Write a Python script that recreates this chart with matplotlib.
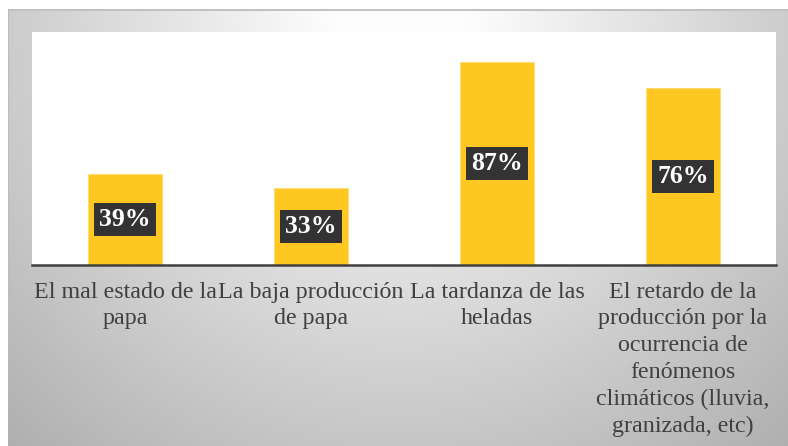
import numpy as np
import matplotlib
matplotlib.use("Agg")
import matplotlib.pyplot as plt
from matplotlib import font_manager

categories = [
    "El mal estado de la\npapa",
    "La baja producción\nde papa",
    "La tardanza de las\nheladas",
    "El retardo de la\nproducción por la\nocurrencia de\nfenómenos\nclimáticos (lluvia,\ngranizada, etc)",
]
values = [39, 33, 87, 76]

serif_names = [f.name for f in font_manager.fontManager.ttflist]
serif = "Liberation Serif" if "Liberation Serif" in serif_names else "DejaVu Serif"
plt.rcParams["font.family"] = "serif"
plt.rcParams["font.serif"] = [serif, "DejaVu Serif"]

W, H = 788, 446
fig = plt.figure(figsize=(W / 100, H / 100), dpi=100)
fig.patch.set_facecolor("white")

# Soft grey backdrop: lightest near the top centre, darker toward the edges
bx0, by0 = 8, 9
bw, bh = W - bx0, H - by0
bg = fig.add_axes([bx0 / W, 0, bw / W, bh / H], zorder=0)
yy, xx = np.mgrid[0:bh, 0:bw]
px = xx + bx0
py = yy + by0
r = np.sqrt((px - 400) ** 2 + ((py - 10) * 1.0) ** 2)
drop = np.clip(0.15 * r - 10, 0, None)
g = (253 - drop) / 255.0
g[0:2, :] = np.minimum(g[0:2, :], 0.76)
g[:, 0:1] = np.minimum(g[:, 0:1], 0.74)
bg.imshow(np.dstack([g, g, g]), aspect="auto", interpolation="bilinear")
bg.axis("off")

# Chart area
ax = fig.add_axes([32 / W, (H - 265) / H, 744 / W, 233 / H], zorder=1)
ax.set_facecolor("white")
x = np.arange(len(values))
ax.bar(x, values, width=0.4, color="#FFC722", edgecolor="#FFDB70", linewidth=0.6)
ax.set_xlim(-0.5, len(values) - 0.5)
ax.set_ylim(0, 100)

for xi, v in zip(x, values):
    ax.text(xi, v / 2, f"{v}%", ha="center", va="center", color="white",
            fontsize=18.5, fontweight="bold",
            bbox=dict(boxstyle="square,pad=0.2", fc="#333333", ec="none"))

ax.set_xticks(x)
ax.set_xticklabels(categories, fontsize=17.3, color="#404040", linespacing=1.36)
ax.tick_params(axis="x", length=0, pad=12)
ax.set_yticks([])
for s in ("top", "left", "right"):
    ax.spines[s].set_visible(False)
ax.spines["bottom"].set_color("#404040")
ax.spines["bottom"].set_linewidth(1.8)

fig.savefig("out.png", dpi=100, facecolor=fig.get_facecolor())
